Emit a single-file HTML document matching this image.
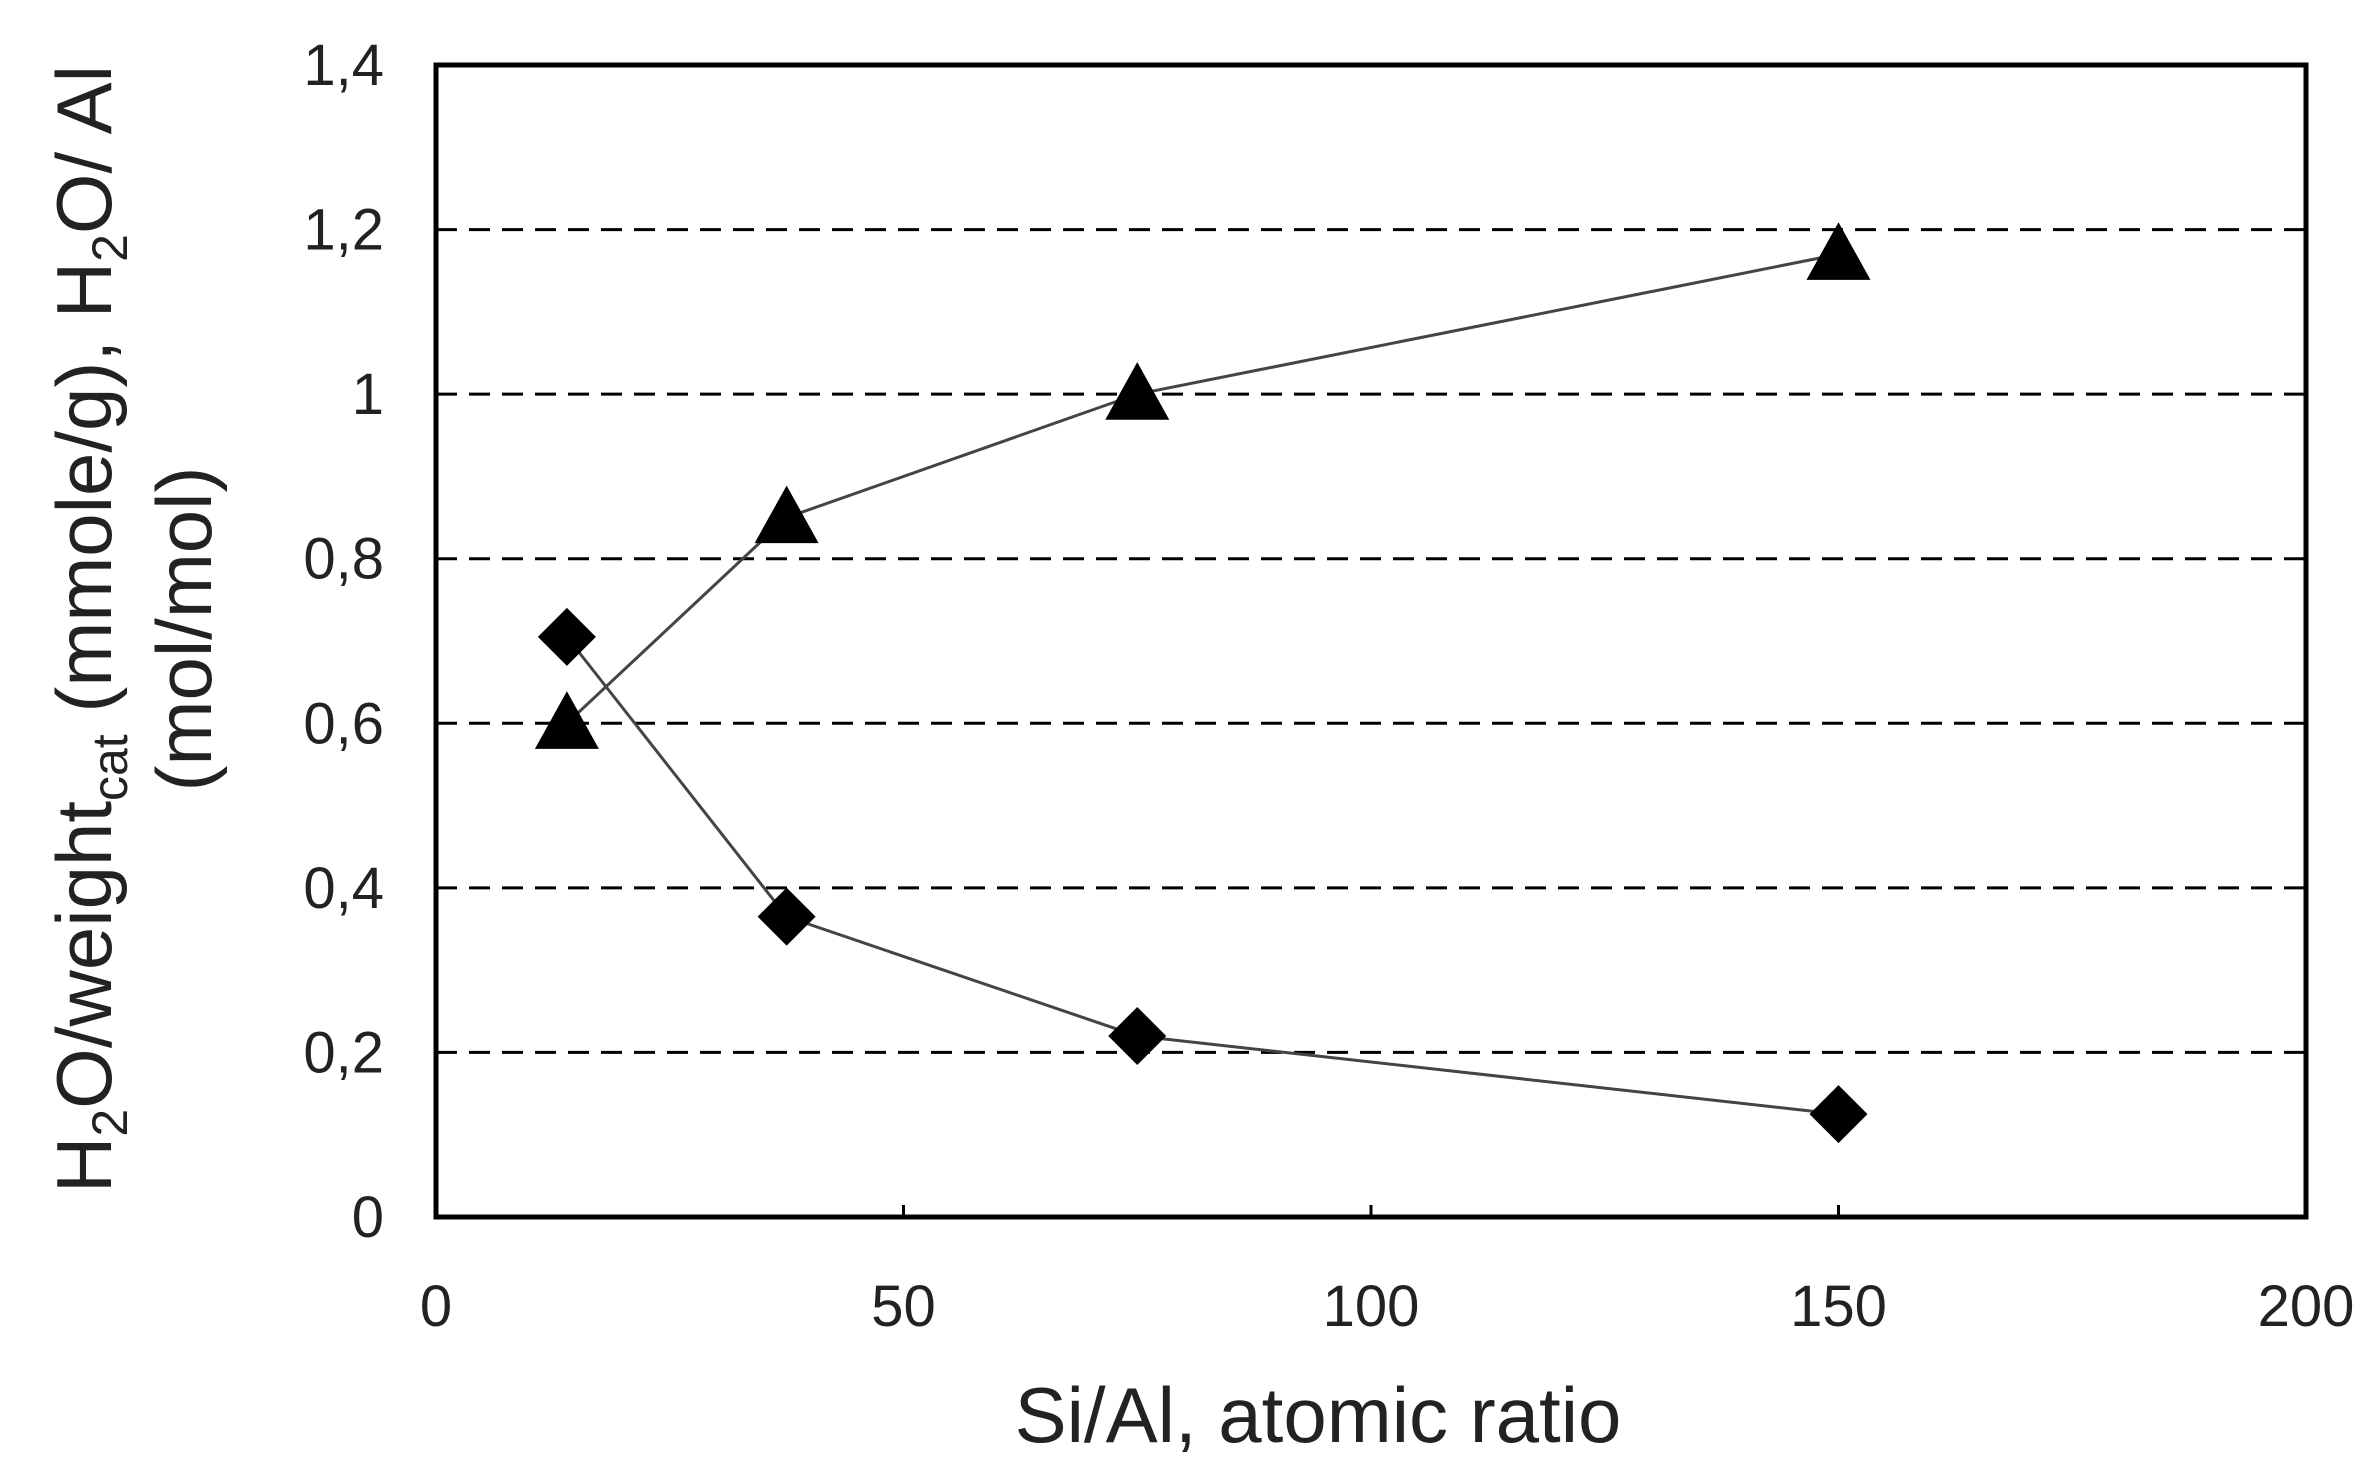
<!DOCTYPE html>
<html><head><meta charset="utf-8"><style>
html,body{margin:0;padding:0;background:#fff;}
svg{display:block;font-family:"Liberation Sans",Arial,sans-serif;}
</style></head><body>
<svg id="chart" width="2376" height="1474" viewBox="0 0 2376 1474" xmlns="http://www.w3.org/2000/svg">
<g id="grid"></g>
<g id="series"></g>
<rect x="436" y="65" width="1870" height="1152" fill="none" stroke="#000" stroke-width="5"/>
<g id="ticks" font-size="58" fill="#222"></g>
<text x="1318" y="1442" font-size="78" text-anchor="middle" fill="#222">Si/Al, atomic ratio</text>
<g transform="translate(111,629) rotate(-90)" font-size="78" fill="#222">
<text text-anchor="middle" x="0" y="0">H<tspan font-size="50" dy="16">2</tspan><tspan dy="-16">O/weight</tspan><tspan font-size="50" dy="16">cat</tspan><tspan dy="-16"> (mmole/g),  H</tspan><tspan font-size="50" dy="16">2</tspan><tspan dy="-16">O/ Al</tspan></text>
<text text-anchor="middle" x="0" y="100">(mol/mol)</text>
</g>
</svg>
<script>
const xTicks=[0,50,100,150,200];
const yTicks=[0,0.2,0.4,0.6,0.8,1.0,1.2,1.4];
const yTickLabels=["0","0,2","0,4","0,6","0,8","1","1,2","1,4"];
const siAl=[14,37.5,75,150];
const triangleValues=[0.6,0.85,1.0,1.17];
const diamondValues=[0.705,0.365,0.22,0.125];
const L=436,R=2306,T=65,B=1217;
const xs=v=>L+(v-0)/200*(R-L);
const ys=v=>B-v/1.4*(B-T);
const NS="http://www.w3.org/2000/svg";
function mk(tag,attrs,parent){const e=document.createElementNS(NS,tag);for(const k in attrs)e.setAttribute(k,attrs[k]);parent.appendChild(e);return e;}
const grid=document.getElementById('grid'),ticks=document.getElementById('ticks'),ser=document.getElementById('series');
yTicks.forEach((v,i)=>{
 if(v>0&&v<1.4){const g=mk('line',{x1:L,x2:R,y1:ys(v),y2:ys(v),stroke:'#000','stroke-width':3,'stroke-dasharray':'21 12'},grid);
 
 }
 const t=mk('text',{x:384,y:ys(v)+20,'text-anchor':'end'},ticks);t.textContent=yTickLabels[i];
 
 
});
xTicks.forEach(v=>{
 const t=mk('text',{x:xs(v),y:1326,'text-anchor':'middle'},ticks);t.textContent=String(v);
 
 
 if(v>0&&v<200){const m=mk('line',{x1:xs(v),x2:xs(v),y1:B,y2:B-12,stroke:'#000','stroke-width':3},ticks);
 
 }
});
function series(vals,name,shape){
 const pts=siAl.map((x,i)=>xs(x)+','+ys(vals[i])).join(' ');
 const pl=mk('polyline',{points:pts,fill:'none',stroke:'#444','stroke-width':3},ser);
 
 
 siAl.forEach((x,i)=>{
  const cx=xs(x),cy=ys(vals[i]);let p;
  if(shape==='tri'){const s=32;p=mk('polygon',{points:`${cx},${cy-s} ${cx+s},${cy+s*0.8} ${cx-s},${cy+s*0.8}`,fill:'#000'},ser);}
  else{const s=29;p=mk('polygon',{points:`${cx},${cy-s} ${cx+s},${cy} ${cx},${cy+s} ${cx-s},${cy}`,fill:'#000'},ser);}
  
  
 });
}
series(triangleValues,'triangle-series','tri');
series(diamondValues,'diamond-series','dia');
</script>
</body></html>
